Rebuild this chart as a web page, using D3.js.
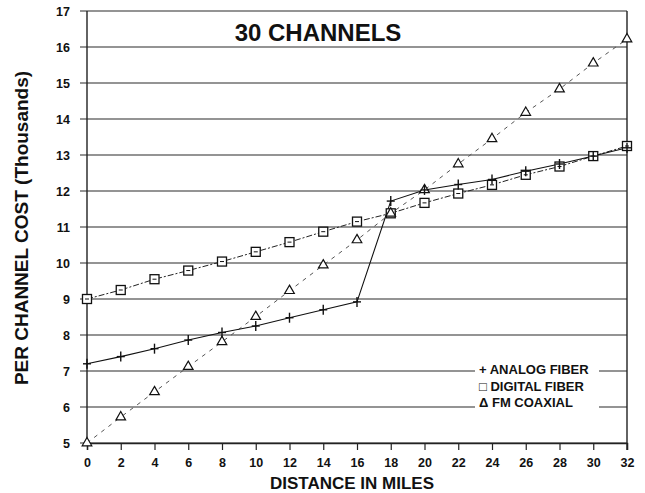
<!DOCTYPE html>
<html><head><meta charset="utf-8">
<script src="https://cdn.jsdelivr.net/npm/d3@7"></script>
<style>
body{margin:0;background:#fff;}
text{font-family:"Liberation Sans",Arial,sans-serif;font-weight:bold;fill:#111;}
</style></head>
<body><svg id="c" width="645" height="493"></svg>
<script>
const miles   = [0,2,4,6,8,10,12,14,16,18,20,22,24,26,28,30,32];
const analog  = [7.2,7.4,7.62,7.86,8.07,8.25,8.48,8.7,8.92,11.72,12.03,12.18,12.32,12.55,12.75,12.97,13.2];
const digital = [9.0,9.25,9.55,9.79,10.04,10.31,10.58,10.87,11.15,11.38,11.67,11.93,12.17,12.45,12.68,12.97,13.25];
const coax    = [5.0,5.72,6.42,7.12,7.81,8.51,9.23,9.94,10.64,11.38,12.03,12.75,13.45,14.18,14.83,15.55,16.22];
const yTicks  = [5,6,7,8,9,10,11,12,13,14,15,16,17];
const xTickLabels = ["0","2","4","6","8","10","12","14","16","18","20","22","24","26","28","30","32"];
const legendLabels = ["+ ANALOG FIBER","\u25A1 DIGITAL FIBER","\u0394 FM COAXIAL"];

const svg = d3.select("#c");
const x = d3.scaleLinear().domain([0,32]).range([87,627]);
const y = d3.scaleLinear().domain([5,17]).range([443,11]);

// gridlines
svg.append("g").selectAll("line").data(yTicks).join("line")
  .attr("x1",80).attr("x2",627).attr("y1",d=>y(d)).attr("y2",d=>y(d))
  .attr("stroke","#2a2a2a").attr("stroke-width",1.2);
// left axis & right border
svg.append("line").attr("x1",x(0)).attr("x2",x(0)).attr("y1",y(17)).attr("y2",y(5)+1).attr("stroke","#222").attr("stroke-width",1.4);
svg.append("line").attr("x1",x(32)).attr("x2",x(32)).attr("y1",y(17)).attr("y2",y(5)+7).attr("stroke","#222").attr("stroke-width",1.4);

// x axis
const xAxis = d3.axisBottom(x).tickValues(miles).tickSize(7).tickPadding(8)
  .tickFormat((d,i)=>xTickLabels[i]);
const gx = svg.append("g").attr("transform",`translate(0,${y(5)})`).call(xAxis);
gx.select(".domain").attr("stroke","#222").attr("stroke-width",1.4);
gx.selectAll(".tick line").attr("stroke","#222").attr("stroke-width",1.2);
gx.selectAll(".tick text").style("font-size","12.5px").attr("fill","#111");

// y axis labels
const yAxis = d3.axisLeft(y).tickValues(yTicks).tickSize(0).tickPadding(17);
const gy = svg.append("g").attr("transform",`translate(${x(0)},0)`).call(yAxis);
gy.select(".domain").remove();
gy.selectAll(".tick text").style("font-size","12.5px").attr("fill","#111");

// legend background
svg.append("rect").attr("x",475).attr("y",360).attr("width",124).attr("height",48).attr("fill","#fff");

// lines
const line = d3.line().x((d,i)=>x(miles[i])).y(d=>y(d));
svg.append("path").datum(coax).attr("d",line).attr("fill","none").attr("stroke","#555").attr("stroke-width",1).attr("stroke-dasharray","4,5");
svg.append("path").datum(digital).attr("d",line).attr("fill","none").attr("stroke","#222").attr("stroke-width",1).attr("stroke-dasharray","6,2,2,2");
svg.append("path").datum(analog).attr("d",line).attr("fill","none").attr("stroke","#111").attr("stroke-width",1.1);

// markers
const sq = svg.append("g");
sq.selectAll("rect").data(digital).join("rect")
  .attr("x",(d,i)=>x(miles[i])-4.5).attr("y",d=>y(d)-4.5).attr("width",9).attr("height",9)
  .attr("fill","#fff").attr("stroke","#111").attr("stroke-width",1.3);
sq.selectAll("line").data(digital).join("line")
  .attr("x1",(d,i)=>x(miles[i])-2).attr("x2",(d,i)=>x(miles[i])+2).attr("y1",d=>y(d)).attr("y2",d=>y(d))
  .attr("stroke","#111").attr("stroke-width",1);
const tri = d3.symbol().type(d3.symbolTriangle).size(40);
svg.append("g").selectAll("path").data(coax).join("path")
  .attr("d",tri).attr("transform",(d,i)=>`translate(${x(miles[i])},${y(d)})`)
  .attr("fill","#fff").attr("stroke","#111").attr("stroke-width",1.2);
const pg = svg.append("g");
analog.forEach((d,i)=>{
  const cx=x(miles[i]), cy=y(d);
  pg.append("line").attr("x1",cx-4).attr("x2",cx+4).attr("y1",cy).attr("y2",cy).attr("stroke","#111").attr("stroke-width",1.4);
  pg.append("line").attr("x1",cx).attr("x2",cx).attr("y1",cy-5).attr("y2",cy+5).attr("stroke","#111").attr("stroke-width",1.4);
});

// legend text
svg.append("g").selectAll("text").data(legendLabels).join("text")
  .attr("x",479).attr("y",(d,i)=>374+i*16.5).style("font-size","13px").text(d=>d);

// titles
svg.append("text").attr("x",318).attr("y",41).attr("text-anchor","middle").style("font-size","24px").text("30 CHANNELS");
svg.append("text").attr("x",352).attr("y",489).attr("text-anchor","middle").style("font-size","17px").text("DISTANCE IN MILES");
svg.append("text").attr("transform","translate(28,228) rotate(-90)").attr("text-anchor","middle").style("font-size","19px").text("PER CHANNEL COST (Thousands)");
</script></body></html>
